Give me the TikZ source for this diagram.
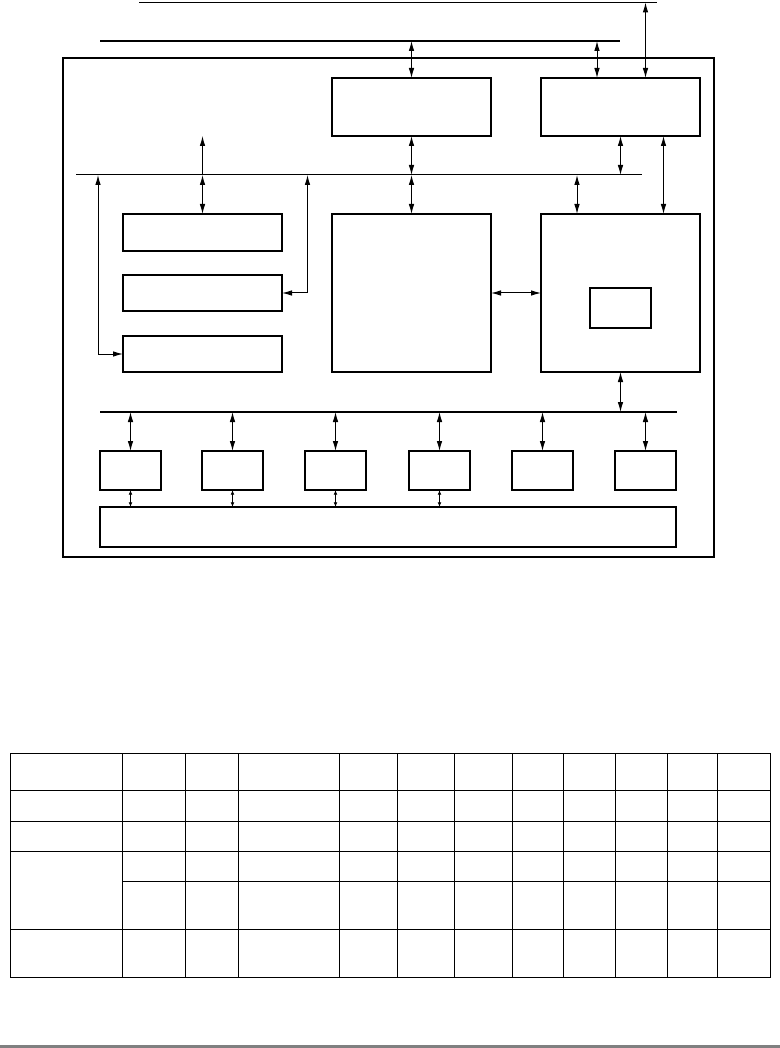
\documentclass[tikz,border=0pt]{standalone}
\usetikzlibrary{arrows.meta,calc}
\tikzset{
  box/.style={draw,line width=0.9pt,inner sep=0pt,outer sep=0pt,anchor=north west},
  thinbus/.style={line width=0.75pt},
  thickbus/.style={line width=1.9pt},
  dar/.style={line width=0.75pt,{Latex[length=7.5pt,width=4.2pt]}-{Latex[length=7.5pt,width=4.2pt]}},
  sar/.style={line width=0.75pt,-{Latex[length=7.5pt,width=4.2pt]}},
  tinyar/.style={line width=0.6pt,{Latex[length=3.5pt,width=2.8pt]}-{Latex[length=3.5pt,width=2.8pt]}},
  tbl/.style={line width=0.75pt}
}
\newcommand{\pxbox}[5]{\node[box,minimum width={(#4-#2)*0.75pt},minimum height={(#5-#3)*0.75pt}] (#1) at (#2,#3) {};}
\begin{document}
\begin{tikzpicture}[x=0.75pt,y=-0.75pt]
\useasboundingbox (0,0) rectangle (780,1048);
% frame
\pxbox{frame}{63}{58}{714}{557}
% buses
\coordinate (Tl) at (139,2.5); \coordinate (Tr) at (657,2.5);
\coordinate (Kl) at (100,41); \coordinate (Kr) at (620,41);
\coordinate (Ml) at (76,175); \coordinate (Mr) at (642,175);
\coordinate (Bl) at (100,412); \coordinate (Br) at (677,412);
\draw[thinbus] (Tl) -- (Tr);
\draw[thickbus] (Kl) -- (Kr);
\draw[thinbus] (Ml) -- (Mr);
\draw[thickbus] (Bl) -- (Br);
% boxes
\pxbox{A}{332}{78}{491}{136}
\pxbox{B}{541}{78}{700}{136}
\pxbox{C1}{123}{214}{282}{251}
\pxbox{C2}{123}{275}{282}{311}
\pxbox{C3}{123}{336}{282}{372}
\pxbox{M}{332}{214}{491}{372}
\pxbox{D}{541}{214}{700}{372}
\pxbox{I}{590}{288}{651}{328}
\pxbox{S1}{100}{451}{161}{490}
\pxbox{S2}{202}{451}{263}{490}
\pxbox{S3}{305}{451}{366}{490}
\pxbox{S4}{409}{451}{470}{490}
\pxbox{S5}{512}{451}{573}{490}
\pxbox{S6}{615}{451}{676}{490}
\pxbox{E}{100}{507}{676}{547}
% connectors top
\draw[dar] (A.north) -- (A.north |- Kl);
\draw[dar] ($(B.north)+(-23.5,0)$) coordinate (b1) -- (b1 |- Kl);
\draw[dar] ($(B.north)+(25,0)$) coordinate (b2) -- (b2 |- Tl);
\draw[dar] (A.south) -- (A.south |- Ml);
\draw[dar] (B.south) -- (B.south |- Ml);
\draw[dar] ($(B.south)+(43,0)$) coordinate (b3) -- (b3 |- D.north);
\coordinate (up) at (C1.north |- A.south);
\draw[sar] (C1.north |- Ml) -- (up);
\draw[dar] (C1.north |- Ml) -- (C1.north);
\draw[dar] (M.north |- Ml) -- (M.north);
\draw[dar] ($(D.north)+(-43.5,0)$) coordinate (d1) -- (d1 |- Ml);
\coordinate (c2x) at (307.5,175);
\draw[dar] (c2x) |- (C2.east);
\coordinate (c3x) at (98,175);
\draw[dar] (c3x) |- (C3.west);
\draw[dar] (M.east) -- (D.west);
\draw[dar] (D.south) -- (D.south |- Bl);
% bottom
\foreach \s in {S1,S2,S3,S4,S5,S6}{
  \draw[dar] (\s.north |- Bl) -- (\s.north);
}
\foreach \s in {S1,S2,S3,S4}{
  \draw[tinyar] (\s.south) -- (\s.south |- E.north);
}
% table
\draw[tbl] (10,753) rectangle (770,977);
\foreach \x in {122.4,185.6,238.3,339.3,397.5,454.7,512.4,563.7,615.9,667.2,717.4}{
  \draw[tbl] (\x,753) -- (\x,977);
}
\foreach \y in {790.7,821.3,851.3,929.3}{
  \draw[tbl] (10,\y) -- (770,\y);
}
\draw[tbl] (122.4,881.3) -- (770,881.3);
% bottom gray rule
\fill[gray] (0,1044.7) rectangle (780,1048);
\end{tikzpicture}
\end{document}
